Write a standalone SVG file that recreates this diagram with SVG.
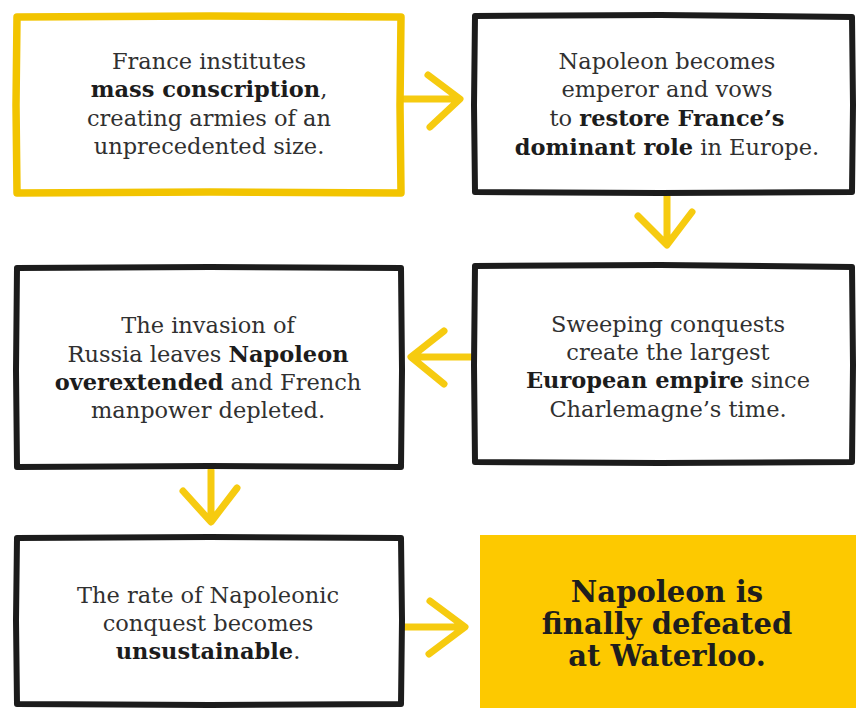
<svg xmlns="http://www.w3.org/2000/svg" width="856" height="708" viewBox="0 0 856 708">
<style>
.box{fill:#ffffff;stroke:#1c1c1c;stroke-width:6;stroke-linejoin:round;stroke-linecap:round}
.ybox{fill:#ffffff;stroke:#f2c400;stroke-width:7.5;stroke-linejoin:round;stroke-linecap:round}
.fbox{fill:#fdc900;stroke:none}
.arrow{fill:none;stroke:#f6cb10;stroke-width:7;stroke-linecap:round;stroke-linejoin:round}
.t{font-family:"DejaVu Serif","Liberation Serif",serif;font-size:22.5px;fill:#303030;text-anchor:middle}
.b{font-weight:bold;fill:#1c1c1c}
.h{font-family:"DejaVu Serif","Liberation Serif",serif;font-size:29px;font-weight:bold;fill:#1e1e1e;text-anchor:middle}
</style>
<rect width="856" height="708" fill="#ffffff"/>
<g id="connectors">
<path class="arrow" d="M404 99 L459 99 M428 75 L460 99 L430 127"/>
<path class="arrow" d="M667 196 L667 243 M638 216 L667 245 L692 212"/>
<path class="arrow" d="M472 357 L412 357 M444 331 L411 357 L444 384"/>
<path class="arrow" d="M211 470 L211 520 M183 491 L211 522 L237 488"/>
<path class="arrow" d="M404 627 L463 627 M430 601 L465 627 L429 654"/>
</g>
<g id="node1">
<path class="ybox" d="M17 17 L210 16 L401 17 L400 105 L401 193 L210 192 L17 193 L16 105 Z"/>
<text class="t" x="209" y="69">France institutes</text>
<text class="t" x="209" y="97"><tspan class="b">mass conscription</tspan>,</text>
<text class="t" x="209" y="126">creating armies of an</text>
<text class="t" x="209" y="154">unprecedented size.</text>
</g>
<g id="node2">
<path class="box" d="M475 16 L660 15 L852 17 L853 105 L852 192 L660 193 L475 192 L474 105 Z"/>
<text class="t" x="667" y="69">Napoleon becomes</text>
<text class="t" x="667" y="97">emperor and vows</text>
<text class="t" x="667" y="126">to <tspan class="b">restore France’s</tspan></text>
<text class="t" x="667" y="155"><tspan class="b">dominant role</tspan> in Europe.</text>
</g>
<g id="node3">
<path class="box" d="M17 268 L210 267 L401 268 L402 370 L401 467 L210 466 L17 467 L16 370 Z"/>
<text class="t" x="208" y="333">The invasion of</text>
<text class="t" x="208" y="362">Russia leaves <tspan class="b">Napoleon</tspan></text>
<text class="t" x="208" y="390"><tspan class="b">overextended</tspan> and French</text>
<text class="t" x="208" y="418">manpower depleted.</text>
</g>
<g id="node4">
<path class="box" d="M475 266 L660 265 L852 267 L853 365 L852 462 L660 463 L475 462 L474 365 Z"/>
<text class="t" x="668" y="332">Sweeping conquests</text>
<text class="t" x="668" y="360">create the largest</text>
<text class="t" x="668" y="388"><tspan class="b">European empire</tspan> since</text>
<text class="t" x="668" y="417">Charlemagne’s time.</text>
</g>
<g id="node5">
<path class="box" d="M17 538 L210 537 L401 538 L402 620 L401 704 L210 705 L17 704 L16 620 Z"/>
<text class="t" x="208" y="603">The rate of Napoleonic</text>
<text class="t" x="208" y="631">conquest becomes</text>
<text class="t" x="208" y="659"><tspan class="b">unsustainable</tspan>.</text>
</g>
<g id="node6">
<rect class="fbox" x="480" y="535" width="376" height="173"/>
<text class="h" x="667" y="602">Napoleon is</text>
<text class="h" x="667" y="634">finally defeated</text>
<text class="h" x="667" y="666">at Waterloo.</text>
</g>
</svg>
